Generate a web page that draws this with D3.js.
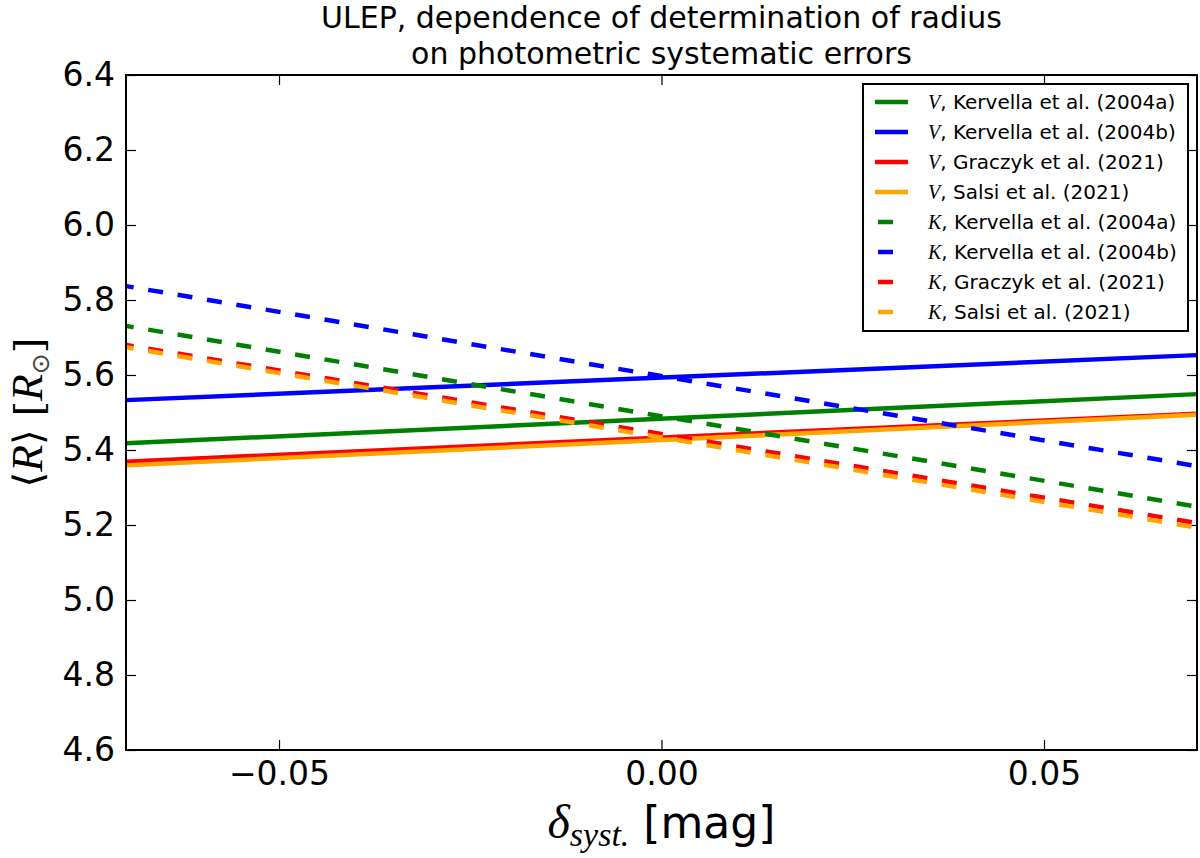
<!DOCTYPE html>
<html>
<head>
<meta charset="utf-8">
<script src="https://cdn.jsdelivr.net/npm/d3@7"></script>
<style>
  body { margin: 0; background: #fff; }
  text { font-family: "DejaVu Sans", sans-serif; fill: #000; }
  .math { font-family: "Liberation Serif", "DejaVu Serif", serif; font-style: italic; }
</style>
</head>
<body>
<div class="chart"></div>
<script>
// Chart data, delta_syst in mag, <R> in R_sun
var deltaSyst = [-0.07, 0.07];

var vKervellaA = [5.418, 5.549];
var vKervellaB = [5.533, 5.653];
var vGraczyk = [5.369, 5.497];
var vSalsi = [5.359, 5.494];

var kKervellaA = [5.731, 5.249];
var kKervellaB = [5.837, 5.357];
var kGraczyk = [5.680, 5.205];
var kSalsi = [5.674, 5.193];

var seriesBands = ["V", "V", "V", "V", "K", "K", "K", "K"];
var seriesRefs = ["Kervella et al. (2004a)", "Kervella et al. (2004b)", "Graczyk et al. (2021)", "Salsi et al. (2021)",
  "Kervella et al. (2004a)", "Kervella et al. (2004b)", "Graczyk et al. (2021)", "Salsi et al. (2021)"];
var seriesValues = [vKervellaA, vKervellaB, vGraczyk, vSalsi, kKervellaA, kKervellaB, kGraczyk, kSalsi];
var seriesColors = ["#008000", "#0000ff", "#ff0000", "#ffa500", "#008000", "#0000ff", "#ff0000", "#ffa500"];

var xTicks = [-0.05, 0.0, 0.05];
var yTicks = [4.6, 4.8, 5.0, 5.2, 5.4, 5.6, 5.8, 6.0, 6.2, 6.4];

// Set up chart
var svgWidth = 1200;
var svgHeight = 858;

var margin = {
  top: 75,
  right: 3,
  bottom: 108,
  left: 126
};

var width = svgWidth - margin.left - margin.right;
var height = svgHeight - margin.top - margin.bottom;

var svg = d3
  .select(".chart")
  .append("svg")
  .attr("width", svgWidth)
  .attr("height", svgHeight);

var chartGroup = svg.append("g")
  .attr("transform", `translate(${margin.left}, ${margin.top})`);

// Scales
var xLinearScale = d3.scaleLinear()
  .domain([-0.07, 0.07])
  .range([0, width]);

var yLinearScale = d3.scaleLinear()
  .domain([4.6, 6.4])
  .range([height, 0]);

// Axes, ticks pointing inwards on all four sides
var bottomAxis = d3.axisBottom(xLinearScale)
  .tickValues(xTicks)
  .tickFormat(d3.format(".2f"))
  .tickSizeInner(-10)
  .tickSizeOuter(0)
  .tickPadding(12);

var leftAxis = d3.axisLeft(yLinearScale)
  .tickValues(yTicks)
  .tickFormat(d3.format(".1f"))
  .tickSizeInner(-10)
  .tickSizeOuter(0)
  .tickPadding(11);

var topAxis = d3.axisTop(xLinearScale)
  .tickValues(xTicks)
  .tickFormat("")
  .tickSizeInner(-10)
  .tickSizeOuter(0);

var rightAxis = d3.axisRight(yLinearScale)
  .tickValues(yTicks)
  .tickFormat("")
  .tickSizeInner(-10)
  .tickSizeOuter(0);

function styleAxis(g) {
  g.select(".domain").remove();
  g.selectAll(".tick line").attr("stroke", "#000").attr("stroke-width", 1.2);
  g.selectAll(".tick text")
    .style("font-family", "'DejaVu Sans', sans-serif")
    .style("font-size", "33px")
    .attr("fill", "#000");
}

chartGroup.append("g")
  .attr("transform", `translate(0, ${height})`)
  .call(bottomAxis)
  .call(styleAxis);

chartGroup.append("g")
  .call(leftAxis)
  .call(styleAxis);

chartGroup.append("g")
  .call(topAxis)
  .call(styleAxis);

chartGroup.append("g")
  .attr("transform", `translate(${width}, 0)`)
  .call(rightAxis)
  .call(styleAxis);

// Lines
var lineGen = d3.line()
  .x((d, i) => xLinearScale(deltaSyst[i]))
  .y(d => yLinearScale(d));

var linesGroup = chartGroup.append("g");

seriesValues.forEach((vals, i) => {
  var path = linesGroup.append("path")
    .datum(vals)
    .attr("d", lineGen)
    .attr("fill", "none")
    .attr("stroke", seriesColors[i])
    .attr("stroke-width", 4.5);
  if (seriesBands[i] === "K") {
    path.attr("stroke-dasharray", "15,14.8")
      .attr("stroke-dashoffset", 7.3);
  }
});

// Frame
chartGroup.append("rect")
  .attr("x", 0)
  .attr("y", 0)
  .attr("width", width)
  .attr("height", height)
  .attr("fill", "none")
  .attr("stroke", "#000")
  .attr("stroke-width", 2);

// Legend
var legend = svg.append("g")
  .attr("transform", "translate(863, 84)");

legend.append("rect")
  .attr("width", 325)
  .attr("height", 247)
  .attr("fill", "#fff")
  .attr("stroke", "#000")
  .attr("stroke-width", 2);

var legendRows = legend.selectAll(".row")
  .data(seriesRefs)
  .enter()
  .append("g")
  .attr("transform", (d, i) => `translate(0, ${18 + i * 30})`);

legendRows.append("line")
  .attr("x1", (d, i) => seriesBands[i] === "K" ? 15 : 12)
  .attr("x2", (d, i) => seriesBands[i] === "K" ? 30 : 45)
  .attr("y1", 0)
  .attr("y2", 0)
  .attr("stroke", (d, i) => seriesColors[i])
  .attr("stroke-width", 4.5);

var legendText = legendRows.append("text")
  .attr("x", 65)
  .attr("y", 7)
  .style("font-size", "20px");

legendText.append("tspan")
  .attr("class", "math")
  .text((d, i) => seriesBands[i]);

legendText.append("tspan")
  .text(d => ", " + d);

// Title
svg.append("text")
  .attr("x", margin.left + width / 2)
  .attr("y", 28)
  .attr("text-anchor", "middle")
  .style("font-size", "30px")
  .text("ULEP, dependence of determination of radius");

svg.append("text")
  .attr("x", margin.left + width / 2)
  .attr("y", 64)
  .attr("text-anchor", "middle")
  .style("font-size", "30px")
  .text("on photometric systematic errors");

// x-axis label
var xLabel = svg.append("text")
  .attr("x", margin.left + width / 2)
  .attr("y", 838)
  .attr("text-anchor", "middle")
  .style("font-size", "44px");

xLabel.append("tspan")
  .attr("class", "math")
  .style("font-size", "48px")
  .text("δ");
xLabel.append("tspan")
  .attr("class", "math")
  .attr("dy", 8)
  .style("font-size", "34px")
  .text("syst.");
xLabel.append("tspan")
  .attr("dy", -8)
  .text("\u00a0[mag]");

// y-axis label
var yLabel = svg.append("text")
  .attr("transform", `translate(42, ${margin.top + height / 2}) rotate(-90)`)
  .attr("text-anchor", "middle")
  .style("font-size", "40px");

yLabel.append("tspan")
  .style("font-family", "'DejaVu Serif', serif")
  .text("\u27e8");
yLabel.append("tspan")
  .attr("class", "math")
  .style("font-size", "44px")
  .text("R");
yLabel.append("tspan")
  .style("font-family", "'DejaVu Serif', serif")
  .text("\u27e9\u00a0[");
yLabel.append("tspan")
  .attr("class", "math")
  .style("font-size", "44px")
  .text("R");
yLabel.append("tspan")
  .attr("dy", 7)
  .style("font-size", "25px")
  .style("fill", "#444")
  .text("\u2299");
yLabel.append("tspan")
  .attr("dy", -7)
  .style("font-family", "'DejaVu Serif', serif")
  .text("]");
</script>
</body>
</html>
